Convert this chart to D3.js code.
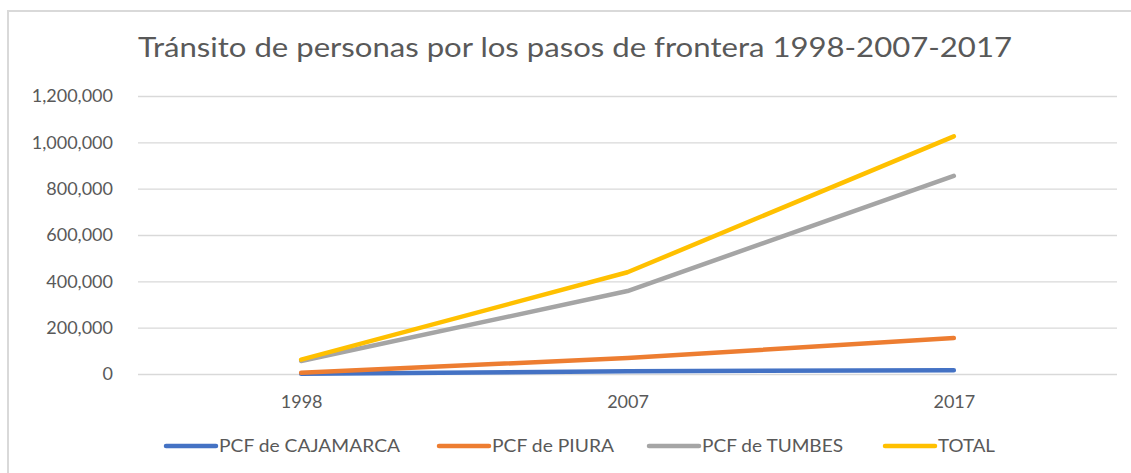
<!DOCTYPE html>
<html lang="es">
<head>
<meta charset="utf-8">
<script src="https://d3js.org/d3.v7.min.js"></script>
<style>
  body { margin: 0; background: #fff; }
  text { font-family: Lato, "Open Sans", sans-serif; fill: #595959; }
</style>
</head>
<body>
<div id="chart"></div>
<script>

// data
var years = ["1998", "2007", "2017"];
var seriesNames = ["PCF de CAJAMARCA", "PCF de PIURA", "PCF de TUMBES", "TOTAL"];
var cajamarca = [1000, 12000, 16000];
var piura = [5000, 69000, 155000];
var tumbes = [56000, 358000, 855000];
var total = [62000, 439000, 1026000];
var yTicks = [0, 200000, 400000, 600000, 800000, 1000000, 1200000];
var colors = ["#4472C4", "#ED7D31", "#A5A5A5", "#FFC000"];

var series = [cajamarca, piura, tumbes, total].map(function(v, i) {
  return { name: seriesNames[i], color: colors[i], values: v };
});

var W = 1131, H = 473;
var margin = {top: 96, right: 14, bottom: 99, left: 138};
var width = W - margin.left - margin.right,
    height = H - margin.top - margin.bottom;

var svg = d3.select("#chart").append("svg")
    .attr("width", W)
    .attr("height", H);

// outer frame (cropped at right/bottom)
svg.append("rect")
    .attr("x", 8).attr("y", 11)
    .attr("width", W + 10).attr("height", H + 10)
    .attr("fill", "none")
    .attr("stroke", "#d9d9d9")
    .attr("stroke-width", 2);

// title
svg.append("text")
    .attr("x", 575).attr("y", 57)
    .attr("text-anchor", "middle")
    .attr("textLength", 874)
    .attr("lengthAdjust", "spacingAndGlyphs")
    .style("font-size", "26px")
    .text("Tránsito de personas por los pasos de frontera 1998-2007-2017");

var g = svg.append("g")
    .attr("transform", "translate(" + margin.left + "," + margin.top + ")");

var x = d3.scalePoint()
    .domain(years)
    .range([0, width])
    .padding(0.5);

var y = d3.scaleLinear()
    .domain([0, 1200000])
    .range([height, 0]);

// grid + y labels
var yAxis = g.append("g")
    .call(d3.axisLeft(y).tickValues(yTicks).tickSize(-width).tickPadding(25)
      .tickFormat(d3.format(",")));
yAxis.select(".domain").remove();
yAxis.selectAll(".tick line").attr("stroke", "#d9d9d9").attr("stroke-width", 1.3);
yAxis.selectAll(".tick text").style("font-size", "18px").attr("fill", "#595959");

// x labels
var xAxis = g.append("g")
    .attr("transform", "translate(0," + height + ")")
    .call(d3.axisBottom(x).tickSize(0).tickPadding(21));
xAxis.select(".domain").remove();
xAxis.selectAll(".tick text").style("font-size", "18px").attr("fill", "#595959");

// lines
var line = d3.line()
    .x(function(d, i) { return x(years[i]); })
    .y(function(d) { return y(d); });

g.selectAll(".series")
  .data(series)
  .enter()
  .append("path")
    .attr("class", "series")
    .attr("d", function(d) { return line(d.values); })
    .attr("fill", "none")
    .attr("stroke", function(d) { return d.color; })
    .attr("stroke-width", 4.5)
    .attr("stroke-linecap", "round")
    .attr("stroke-linejoin", "round");

// legend
var legendX = [166, 439, 649, 885];
var legendW = [181, 122, 141, 57];
var legendY = 446;
var leg = svg.selectAll(".legend")
  .data(series)
  .enter()
  .append("g")
    .attr("class", "legend")
    .attr("transform", function(d, i) { return "translate(" + legendX[i] + "," + legendY + ")"; });

leg.append("line")
    .attr("x1", 0).attr("x2", 50)
    .attr("stroke", function(d) { return d.color; })
    .attr("stroke-width", 4.5)
    .attr("stroke-linecap", "round");

leg.append("text")
    .attr("x", 53)
    .attr("dy", "0.35em")
    .attr("textLength", function(d, i) { return legendW[i]; })
    .attr("lengthAdjust", "spacingAndGlyphs")
    .style("font-size", "18px")
    .text(function(d) { return d.name; });

</script>
</body>
</html>
